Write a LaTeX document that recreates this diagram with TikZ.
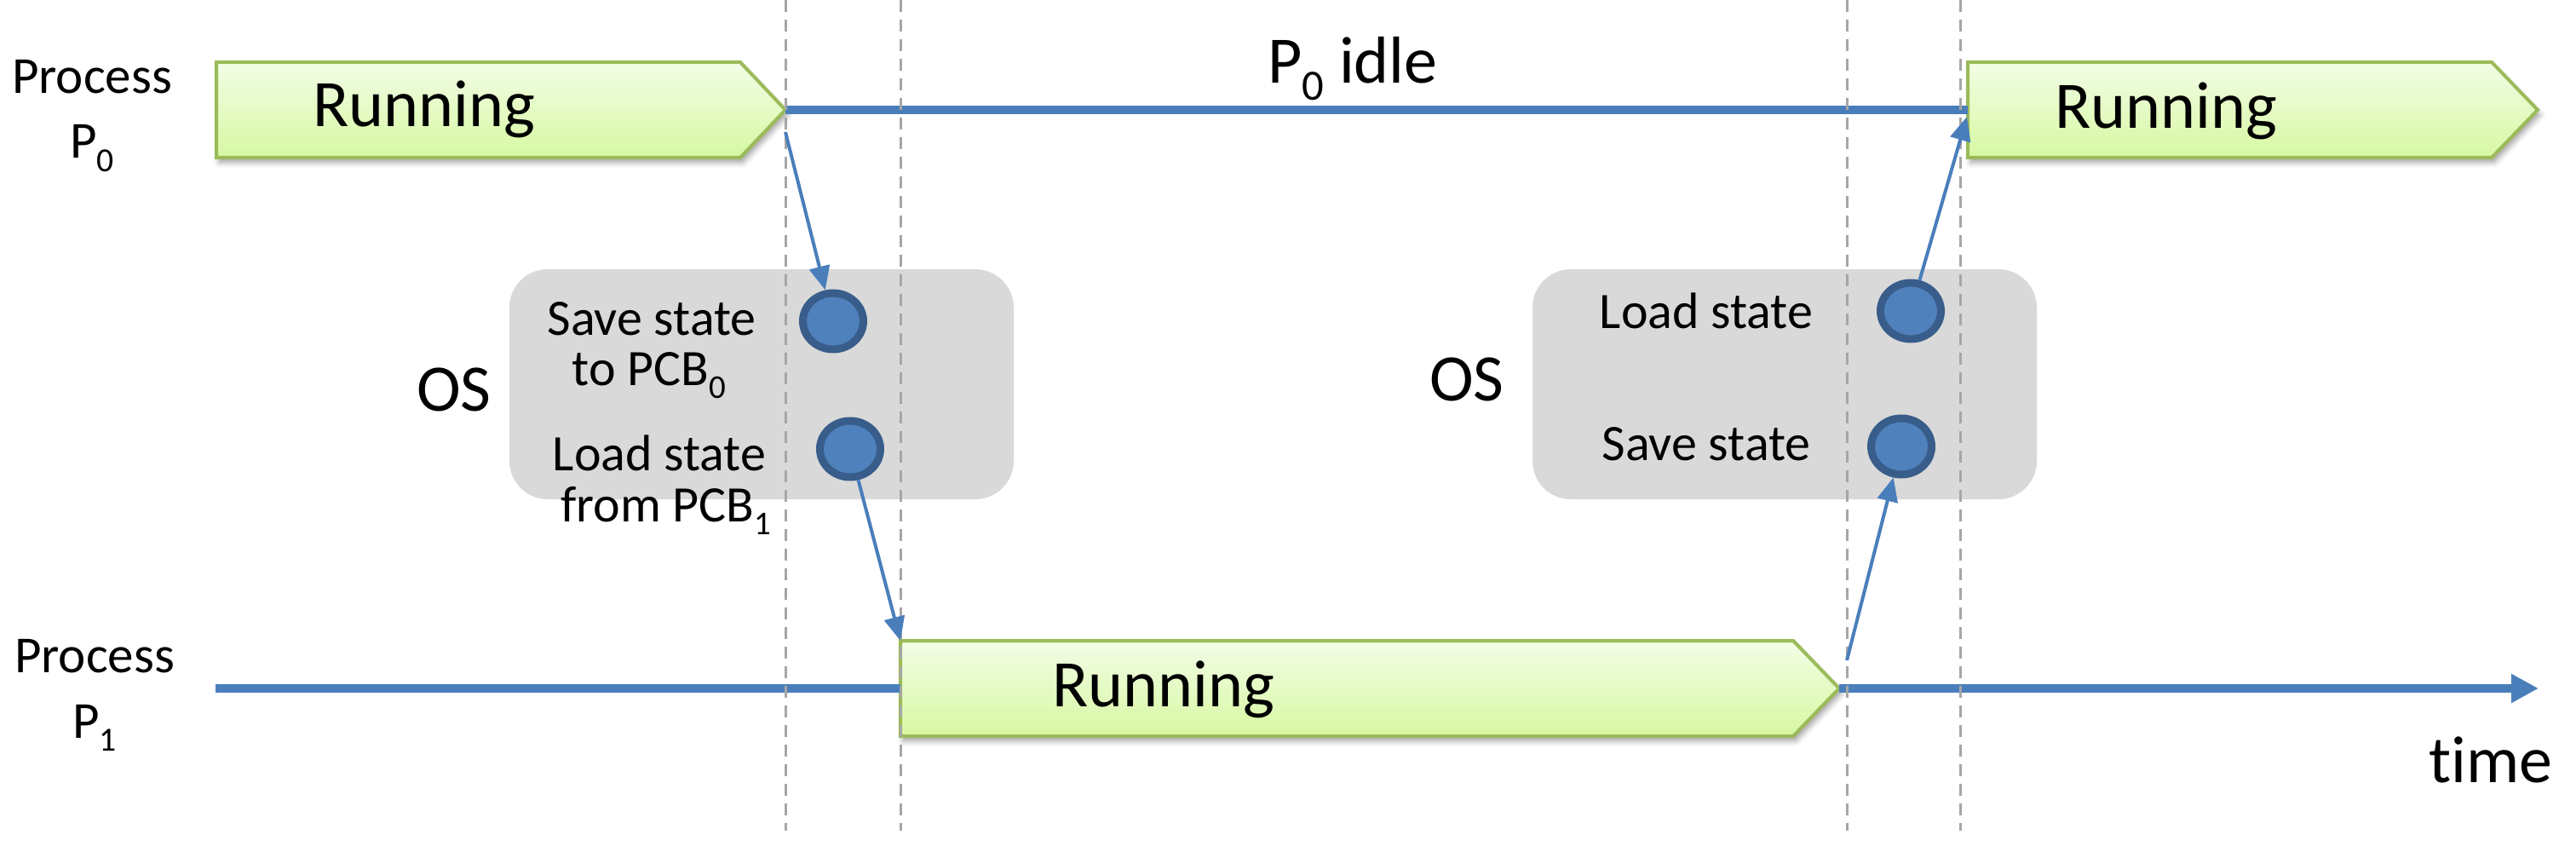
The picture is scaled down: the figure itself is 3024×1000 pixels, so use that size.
\documentclass[tikz,border=0pt]{standalone}
\usepackage{fontspec}
\setmainfont[Ligatures={NoCommon}]{Carlito}
\usetikzlibrary{arrows.meta,shapes.geometric,shadows.blur}

\definecolor{lineblue}{HTML}{4A7EBB}
\definecolor{dotfill}{HTML}{4F81BD}
\definecolor{dotedge}{HTML}{385D8A}
\definecolor{gtop}{HTML}{F2FDE6}
\definecolor{gbot}{HTML}{D7F8A2}
\definecolor{gedge}{HTML}{9BBB59}
\definecolor{osgray}{HTML}{D9D9D9}
\definecolor{guidegray}{HTML}{A6A6A6}

\newcommand{\dn}[1]{\raisebox{-0.25em}{\scalebox{0.65}{#1}}}

\begin{document}
\begin{tikzpicture}[x=1pt,y=-1pt,
  runbox/.style={draw=gedge, line width=4pt, top color=gtop, bottom color=gbot,
    blur shadow={shadow xshift=3pt, shadow yshift=-6pt, shadow blur radius=6pt, shadow opacity=35}},
  osbox/.style={fill=osgray, rounded corners=45pt, minimum width=592pt, minimum height=270pt, inner sep=0pt},
  dot/.style={ellipse, draw=dotedge, fill=dotfill, line width=9pt, minimum width=71pt, minimum height=66pt, inner sep=0pt},
  tline/.style={draw=lineblue, line width=10pt},
  conn/.style={draw=lineblue, line width=4pt, -{Triangle[length=28pt,width=24pt]}},
  guide/.style={draw=guidegray, line width=3pt, dash pattern=on 14pt off 9pt},
  bigtxt/.style={font=\fontsize{78}{94}\selectfont, inner sep=0pt, anchor=base},
  smalltxt/.style={font=\fontsize{60}{60}\selectfont, inner sep=0pt, anchor=base},
  labtxt/.style={font=\fontsize{61}{70}\selectfont, inner sep=0pt, anchor=base}
]
\useasboundingbox (0,0) rectangle (3024,1000);

% OS boxes
\node[osbox] (os1) at (894,451) {};
\node[osbox] (os2) at (2095,451) {};

% coordinates of the running boxes
\coordinate (r1w) at (254,129);
\coordinate (r1tip) at (922,129);
\coordinate (r2w) at (2310,129);
\coordinate (r2tip) at (2979,129);
\coordinate (r3w) at (1057,808);
\coordinate (r3nw) at (1057,752);
\coordinate (r3tip) at (2159,808);

% running boxes
\path[runbox] (254,73) -- (869,73) -- (r1tip) -- (869,185) -- (254,185) -- cycle;
\path[runbox] (2310,73) -- (2925,73) -- (r2tip) -- (2925,185) -- (2310,185) -- cycle;
\path[runbox] (1057,752) -- (2105,752) -- (r3tip) -- (2105,864) -- (1057,864) -- cycle;

% timelines
\coordinate (p1start) at (253,808);
\coordinate (timeend) at (2980,808);
\draw[tline] (r1tip) -- (r2w);
\draw[tline] (p1start) -- (r3w);
\draw[tline, -{Triangle[length=32pt,width=32pt]}] (r3tip) -- (timeend);

% guide lines
\draw[guide] (922,0) -- (922,975);
\draw[guide] (1057,0) -- (1057,975);
\draw[guide] (2168,0) -- (2168,975);
\draw[guide] (2301,0) -- (2301,975);

% state dots
\node[dot] (c1) at (978,377) {};
\node[dot] (c2) at (998,527) {};
\node[dot] (c3) at (2243,365) {};
\node[dot] (c4) at (2232,524) {};

% connectors
\coordinate (a1s) at (922,155);
\coordinate (a3s) at (2168,775);
\coordinate (a4e) at (2309,137);
\draw[conn] (a1s) -- (c1);
\draw[conn] (c2) -- (r3nw);
\draw[conn] (a3s) -- (c4);
\draw[conn] (c3) -- (a4e);

% texts
\node[labtxt] (pr0) at (108,110) {Process};
\node[labtxt] (pp0) at (108,186) {P\dn{0}};
\node[labtxt] (pr1) at (111,789) {Process};
\node[labtxt] (pp1) at (111,866) {P\dn{1}};

\node[bigtxt] (run1) at (498,149) {Running};
\node[bigtxt] (run2) at (2543,151) {Running};
\node[bigtxt] (run3) at (1366,829) {Running};
\node[bigtxt] (idle) at (1588,98) {P\dn{0} idle};
\node[bigtxt] (os1t) at (533,482) {OS};
\node[bigtxt] (os2t) at (1722,470) {OS};
\node[bigtxt] (time) at (2924,918) {time};

\node[smalltxt] (s1a) at (765,393) {Save state};
\node[smalltxt] (s1b) at (762,452) {to PCB\dn{0}};
\node[smalltxt] (l1a) at (774,552) {Load state};
\node[smalltxt] (l1b) at (782,612) {from PCB\dn{1}};
\node[smalltxt] (l2) at (2003,385) {Load state};
\node[smalltxt] (s2) at (2003,540) {Save state};
\end{tikzpicture}
\end{document}
